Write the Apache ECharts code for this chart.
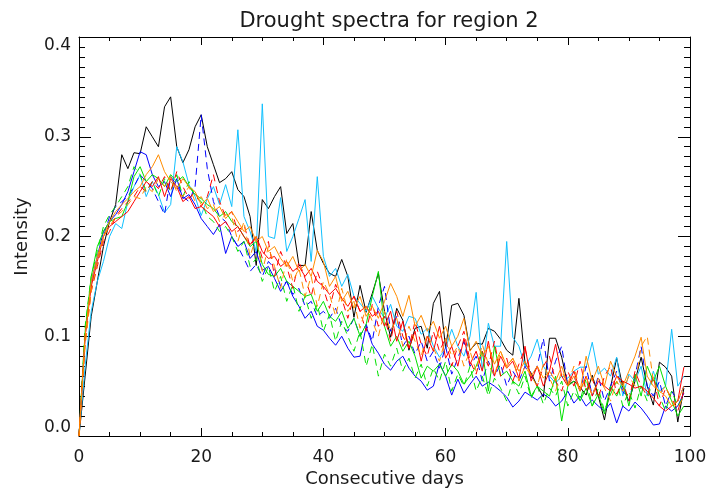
<!DOCTYPE html>
<html>
<head>
<meta charset="utf-8">
<title>Drought spectra for region 2</title>
<script src="https://cdn.jsdelivr.net/npm/echarts@6/dist/echarts.min.js"></script>
<style>
  html, body { margin: 0; padding: 0; background: #fff; }
  #chart { width: 707px; height: 491px; }
</style>
</head>
<body>
<div id="chart"></div>
<script>
// Intensity per drought length (consecutive days 0..99), one array per spectrum
const black = [0,0.06,0.12,0.155,0.19,0.215,0.232,0.282,0.268,0.284,0.283,0.31,0.3,0.29,0.33,0.34,0.29,0.274,0.287,0.31,
  0.322,0.29,0.272,0.254,0.258,0.265,0.247,0.24,0.22,0.171,0.237,0.228,0.24,0.25,0.203,0.213,0.171,0.171,0.225,0.186,
  0.173,0.163,0.16,0.177,0.16,0.119,0.151,0.124,0.143,0.163,0.125,0.099,0.128,0.116,0.086,0.108,0.11,0.088,0.133,0.145,
  0.088,0.131,0.133,0.121,0.086,0.093,0.092,0.108,0.105,0.097,0.086,0.081,0.138,0.073,0.063,0.05,0.039,0.098,0.098,0.079,
  0.051,0.055,0.049,0.041,0.061,0.04,0.016,0.049,0.078,0.049,0.035,0.055,0.079,0.05,0.031,0.074,0.069,0.06,0.014,0.048];

const cyan = [0,0.07,0.125,0.155,0.175,0.2,0.213,0.208,0.235,0.25,0.262,0.24,0.255,0.242,0.224,0.232,0.29,0.275,0.252,0.24,
  0.221,0.238,0.25,0.232,0.252,0.23,0.307,0.22,0.205,0.185,0.333,0.2,0.198,0.239,0.185,0.2,0.218,0.237,0.175,0.26,
  0.18,0.16,0.168,0.15,0.162,0.14,0.133,0.125,0.14,0.128,0.118,0.132,0.11,0.105,0.12,0.118,0.102,0.108,0.09,0.079,
  0.088,0.107,0.09,0.08,0.1,0.144,0.066,0.113,0.09,0.09,0.195,0.099,0.09,0.07,0.08,0.097,0.07,0.06,0.053,0.06,
  0.058,0.065,0.069,0.069,0.094,0.062,0.068,0.06,0.079,0.04,0.062,0.055,0.07,0.04,0.065,0.045,0.05,0.107,0.05,0.06];

const blue = [0,0.1,0.155,0.18,0.205,0.215,0.222,0.232,0.245,0.265,0.285,0.282,0.262,0.25,0.255,0.24,0.258,0.238,0.242,0.232,
  0.218,0.21,0.202,0.212,0.183,0.2,0.19,0.195,0.178,0.185,0.166,0.17,0.158,0.145,0.155,0.14,0.13,0.118,0.125,0.11,
  0.106,0.098,0.091,0.1,0.088,0.079,0.08,0.11,0.092,0.083,0.072,0.066,0.075,0.08,0.068,0.06,0.055,0.046,0.05,0.073,
  0.06,0.041,0.057,0.043,0.052,0.06,0.05,0.054,0.05,0.045,0.039,0.029,0.035,0.044,0.04,0.036,0.042,0.038,0.03,0.035,
  0.045,0.033,0.04,0.03,0.036,0.03,0.025,0.033,0.013,0.03,0.025,0.034,0.028,0.02,0.011,0.012,0.03,0.025,0.03,0.043];

const blueDashed = [0,0.095,0.15,0.175,0.2,0.22,0.23,0.235,0.24,0.25,0.262,0.255,0.248,0.235,0.222,0.26,0.252,0.24,0.235,0.25,
  0.322,0.268,0.235,0.22,0.215,0.2,0.19,0.178,0.165,0.172,0.16,0.175,0.168,0.15,0.155,0.142,0.148,0.13,0.135,0.12,
  0.125,0.118,0.128,0.11,0.105,0.118,0.1,0.112,0.095,0.13,0.15,0.105,0.12,0.09,0.1,0.082,0.095,0.075,0.085,0.068,
  0.09,0.062,0.078,0.095,0.07,0.08,0.055,0.075,0.06,0.072,0.05,0.065,0.055,0.07,0.058,0.07,0.098,0.055,0.075,0.09,
  0.05,0.06,0.045,0.07,0.04,0.06,0.035,0.05,0.065,0.045,0.035,0.06,0.09,0.05,0.04,0.055,0.03,0.045,0.035,0.05];

const green = [0,0.105,0.16,0.19,0.205,0.215,0.218,0.22,0.235,0.26,0.27,0.255,0.262,0.258,0.25,0.262,0.255,0.26,0.25,0.242,
  0.238,0.232,0.228,0.22,0.225,0.215,0.21,0.2,0.19,0.195,0.172,0.162,0.16,0.168,0.155,0.15,0.145,0.14,0.142,0.125,
  0.135,0.12,0.115,0.125,0.108,0.118,0.1,0.112,0.14,0.165,0.11,0.09,0.1,0.085,0.095,0.08,0.058,0.07,0.065,0.072,
  0.06,0.072,0.065,0.052,0.06,0.07,0.085,0.045,0.09,0.06,0.065,0.055,0.05,0.065,0.04,0.05,0.045,0.04,0.06,0.015,
  0.05,0.055,0.035,0.048,0.03,0.042,0.022,0.05,0.04,0.055,0.03,0.062,0.04,0.07,0.055,0.07,0.05,0.035,0.02,0.03];

const greenDashed = [0,0.11,0.16,0.185,0.21,0.222,0.23,0.24,0.25,0.27,0.262,0.245,0.255,0.24,0.258,0.245,0.262,0.24,0.255,0.24,
  0.235,0.22,0.215,0.205,0.21,0.2,0.185,0.195,0.17,0.178,0.155,0.17,0.145,0.16,0.135,0.152,0.125,0.14,0.118,0.132,
  0.105,0.122,0.095,0.115,0.1,0.085,0.105,0.07,0.092,0.06,0.082,0.07,0.088,0.065,0.078,0.058,0.072,0.05,0.068,0.055,
  0.075,0.045,0.062,0.05,0.07,0.045,0.06,0.04,0.058,0.048,0.035,0.055,0.042,0.06,0.038,0.05,0.032,0.048,0.04,0.055,
  0.03,0.045,0.035,0.058,0.03,0.048,0.025,0.042,0.055,0.03,0.045,0.028,0.05,0.035,0.06,0.04,0.025,0.045,0.03,0.04];

const red = [0,0.1,0.15,0.175,0.2,0.21,0.215,0.22,0.225,0.235,0.245,0.255,0.25,0.26,0.24,0.258,0.25,0.235,0.24,0.228,
  0.23,0.225,0.22,0.21,0.215,0.205,0.21,0.2,0.192,0.2,0.185,0.178,0.18,0.17,0.175,0.165,0.17,0.16,0.168,0.155,
  0.15,0.142,0.148,0.138,0.13,0.14,0.125,0.13,0.12,0.125,0.11,0.125,0.095,0.115,0.088,0.105,0.075,0.1,0.085,0.11,
  0.078,0.09,0.07,0.098,0.072,0.085,0.065,0.095,0.06,0.08,0.068,0.075,0.058,0.09,0.055,0.07,0.05,0.065,0.092,0.06,
  0.05,0.065,0.045,0.06,0.04,0.055,0.05,0.045,0.06,0.055,0.052,0.048,0.05,0.045,0.038,0.03,0.025,0.03,0.035,0.069];

const redDashed = [0,0.095,0.145,0.17,0.195,0.205,0.22,0.228,0.235,0.24,0.25,0.245,0.255,0.248,0.26,0.245,0.265,0.25,0.238,0.245,
  0.23,0.24,0.262,0.235,0.22,0.225,0.205,0.212,0.19,0.2,0.178,0.195,0.16,0.185,0.17,0.148,0.175,0.158,0.14,0.165,
  0.148,0.128,0.152,0.138,0.118,0.14,0.125,0.105,0.132,0.11,0.12,0.095,0.125,0.1,0.088,0.115,0.092,0.08,0.105,0.085,
  0.098,0.07,0.09,0.105,0.075,0.062,0.085,0.07,0.095,0.06,0.078,0.055,0.072,0.088,0.06,0.05,0.07,0.08,0.055,0.045,
  0.065,0.05,0.075,0.045,0.058,0.038,0.06,0.07,0.042,0.055,0.035,0.065,0.05,0.04,0.06,0.03,0.048,0.038,0.025,0.045];

const orange = [0,0.1,0.155,0.18,0.2,0.215,0.225,0.232,0.238,0.245,0.25,0.262,0.27,0.282,0.265,0.255,0.248,0.258,0.25,0.245,
  0.232,0.238,0.225,0.23,0.218,0.225,0.215,0.205,0.21,0.195,0.2,0.185,0.19,0.178,0.17,0.18,0.165,0.172,0.16,0.186,
  0.175,0.15,0.16,0.135,0.145,0.128,0.14,0.12,0.13,0.118,0.135,0.153,0.14,0.12,0.141,0.11,0.121,0.105,0.115,0.098,
  0.11,0.09,0.1,0.118,0.085,0.095,0.08,0.09,0.072,0.085,0.07,0.078,0.065,0.075,0.06,0.07,0.058,0.065,0.055,0.07,
  0.05,0.06,0.045,0.08,0.055,0.07,0.05,0.075,0.06,0.05,0.065,0.08,0.099,0.06,0.05,0.045,0.04,0.03,0.035,0.05];

const orangeDashed = [0,0.09,0.145,0.175,0.2,0.21,0.22,0.225,0.232,0.24,0.238,0.25,0.245,0.258,0.25,0.26,0.245,0.24,0.25,0.235,
  0.24,0.228,0.232,0.215,0.222,0.22,0.195,0.215,0.18,0.2,0.165,0.19,0.17,0.148,0.178,0.155,0.168,0.14,0.16,0.13,
  0.155,0.142,0.12,0.148,0.125,0.135,0.108,0.13,0.115,0.1,0.125,0.105,0.118,0.09,0.11,0.095,0.08,0.102,0.088,0.075,
  0.098,0.08,0.09,0.07,0.085,0.065,0.092,0.072,0.06,0.085,0.068,0.078,0.055,0.07,0.06,0.05,0.072,0.058,0.045,0.065,
  0.052,0.07,0.045,0.06,0.04,0.058,0.048,0.035,0.055,0.045,0.06,0.05,0.09,0.1,0.055,0.042,0.05,0.035,0.028,0.04];

const xTicks = [0, 20, 40, 60, 80, 100];
const yTicks = [0.0, 0.1, 0.2, 0.3, 0.4];

const FONT = 'DejaVu Sans';
const TEXT = '#1a1a1a';
const dash = [7, 5];

function pairs(values) {
  return values.map((v, day) => [day, v]);
}

const spectra = [
  { name: 'black', data: black, color: '#000000', type: 'solid' },
  { name: 'cyan', data: cyan, color: '#10c0ff', type: 'solid' },
  { name: 'blue', data: blue, color: '#0000ff', type: 'solid' },
  { name: 'blue dashed', data: blueDashed, color: '#0000ff', type: dash },
  { name: 'green', data: green, color: '#00e000', type: 'solid' },
  { name: 'green dashed', data: greenDashed, color: '#00e000', type: dash },
  { name: 'red', data: red, color: '#ff0000', type: 'solid' },
  { name: 'red dashed', data: redDashed, color: '#ff0000', type: dash },
  { name: 'orange', data: orange, color: '#ff8c00', type: 'solid' },
  { name: 'orange dashed', data: orangeDashed, color: '#ff8c00', type: dash }
];

function xAxisDef(position, showLabels) {
  return {
    type: 'value', position: position,
    min: xTicks[0], max: xTicks[xTicks.length - 1], interval: 20,
    name: showLabels ? 'Consecutive days' : '',
    nameLocation: 'middle', nameGap: 34, nameMoveOverlap: false,
    nameTextStyle: { fontFamily: FONT, fontSize: 18, color: TEXT },
    axisLine: { show: true, onZero: false, lineStyle: { color: '#000', width: 1 } },
    axisTick: { show: true, inside: true, length: 8, lineStyle: { color: '#000' } },
    minorTick: { show: true, splitNumber: 4, length: 4, lineStyle: { color: '#000' } },
    axisLabel: { show: showLabels, margin: 13, fontFamily: FONT, fontSize: 17, color: TEXT },
    splitLine: { show: false }
  };
}

function yAxisDef(position, showLabels) {
  return {
    type: 'value', position: position,
    min: yTicks[0], max: yTicks[yTicks.length - 1], interval: 0.1,
    name: showLabels ? 'Intensity' : '',
    nameLocation: 'middle', nameGap: 48, nameRotate: 90, nameMoveOverlap: false,
    nameTextStyle: { fontFamily: FONT, fontSize: 18, color: TEXT },
    axisLine: { show: true, onZero: false, lineStyle: { color: '#000', width: 1 } },
    axisTick: { show: true, inside: true, length: 12, lineStyle: { color: '#000' } },
    minorTick: { show: true, splitNumber: 10, length: 6, lineStyle: { color: '#000' } },
    axisLabel: { show: showLabels, margin: 8, fontFamily: FONT, fontSize: 17, color: TEXT,
      verticalAlignMinLabel: 'bottom', verticalAlignMaxLabel: 'top',
      formatter: v => v.toFixed(1) },
    splitLine: { show: false }
  };
}

const chart = echarts.init(document.getElementById('chart'), null, { renderer: 'canvas' });
chart.setOption({
  animation: false,
  backgroundColor: '#ffffff',
  title: {
    text: 'Drought spectra for region 2',
    left: 384, top: 6, textAlign: 'center',
    textStyle: { fontFamily: FONT, fontSize: 21, fontWeight: 'normal', color: TEXT }
  },
  grid: { left: 79, right: 17, top: 37, bottom: 55, outerBoundsMode: 'none', containLabel: false },
  xAxis: [xAxisDef('bottom', true), xAxisDef('top', false)],
  yAxis: [yAxisDef('left', true), yAxisDef('right', false)],
  series: spectra.map(s => ({
    name: s.name,
    type: 'line',
    xAxisIndex: 0, yAxisIndex: 0,
    data: pairs(s.data),
    showSymbol: false, symbol: 'none',
    lineStyle: { color: s.color, width: 1, type: s.type },
    itemStyle: { color: s.color }
  }))
});
</script>
</body>
</html>
